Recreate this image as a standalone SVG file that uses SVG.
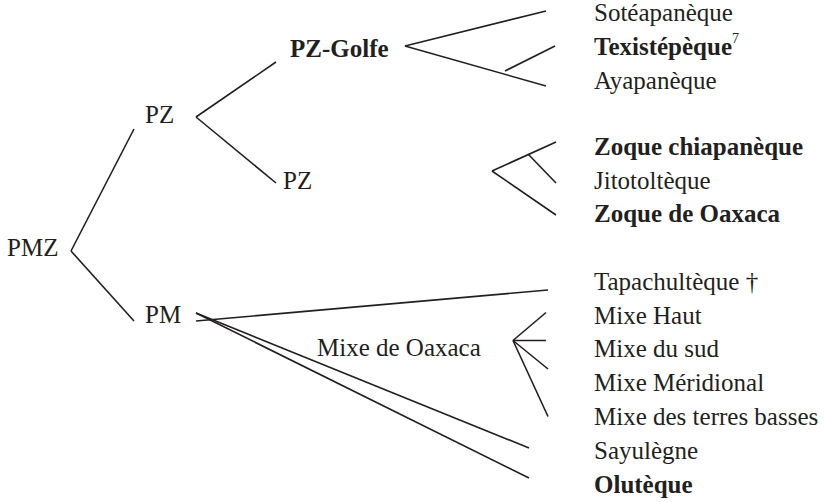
<svg xmlns="http://www.w3.org/2000/svg" width="828" height="502" viewBox="0 0 828 502">
<style>
text{font-family:"Liberation Serif","Times New Roman",serif;font-size:25px;fill:#231f20}
.b{font-weight:bold}
.sup{font-size:14px}
line{stroke:#231f20;stroke-width:1.6;stroke-linecap:butt}
</style>
<rect width="828" height="502" fill="#fff"/>
<g id="connectors">
<line x1="71" y1="251" x2="134" y2="129"/>
<line x1="71" y1="251" x2="134" y2="321"/>
<line x1="196" y1="117" x2="276" y2="62"/>
<line x1="196" y1="117" x2="276" y2="183"/>
<line x1="405" y1="46" x2="546" y2="11"/>
<line x1="405" y1="46" x2="546" y2="86"/>
<line x1="505" y1="71" x2="555" y2="46"/>
<line x1="492" y1="171" x2="556" y2="142"/>
<line x1="492" y1="171" x2="556" y2="215"/>
<line x1="528" y1="154" x2="556" y2="183"/>
<line x1="196" y1="321" x2="548" y2="290"/>
<line x1="196" y1="313" x2="529" y2="448"/>
<line x1="196" y1="313" x2="529" y2="478"/>
<line x1="513" y1="340.5" x2="546" y2="312.5"/>
<line x1="513" y1="340.5" x2="546" y2="340.5"/>
<line x1="513" y1="340.5" x2="548" y2="369"/>
<line x1="513" y1="340.5" x2="548" y2="416.5"/>
</g>
<g id="PMZ"><text x="7" y="256">PMZ</text></g>
<g id="PZ"><text x="145" y="123">PZ</text></g>
<g id="PM"><text x="145" y="323">PM</text></g>
<g id="PZ-Golfe"><text class="b" x="290" y="57">PZ-Golfe</text></g>
<g id="PZ2"><text x="283" y="189">PZ</text></g>
<g id="MixeOaxaca"><text x="317" y="356">Mixe de Oaxaca</text></g>
<g id="Soteapaneque"><text x="594" y="21">Sotéapanèque</text></g>
<g id="Texistepeque"><text class="b" x="594" y="55">Texistépèque<tspan class="sup" font-weight="normal" dy="-12">7</tspan></text></g>
<g id="Ayapaneque"><text x="594" y="89">Ayapanèque</text></g>
<g id="ZoqueChiapaneque"><text class="b" x="594" y="155">Zoque chiapanèque</text></g>
<g id="Jitotolteque"><text x="594" y="189">Jitotoltèque</text></g>
<g id="ZoqueOaxaca"><text class="b" x="594" y="222">Zoque de Oaxaca</text></g>
<g id="Tapachulteque"><text x="594" y="290">Tapachultèque †</text></g>
<g id="MixeHaut"><text x="594" y="323.5">Mixe Haut</text></g>
<g id="MixeSud"><text x="594" y="357">Mixe du sud</text></g>
<g id="MixeMeridional"><text x="594" y="391">Mixe Méridional</text></g>
<g id="MixeTerresBasses"><text x="594" y="425">Mixe des terres basses</text></g>
<g id="Sayulegne"><text x="594" y="459">Sayulègne</text></g>
<g id="Oluteque"><text class="b" x="594" y="493">Olutèque</text></g>
</svg>
